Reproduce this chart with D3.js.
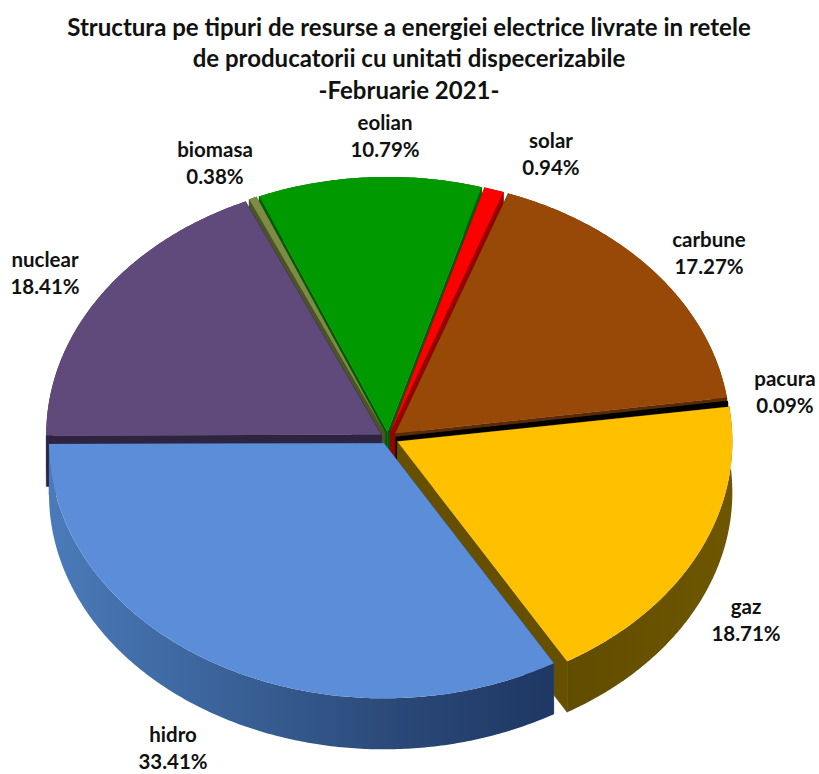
<!DOCTYPE html>
<html><head><meta charset="utf-8">
<style>html,body{margin:0;padding:0;background:#fff}svg{display:block}text{font-family:Lato,"Open Sans",sans-serif;font-weight:700;fill:#111}</style>
<script src="https://cdn.jsdelivr.net/npm/d3@7"></script>
</head><body><div id="c"></div>
<script>
const categories=["carbune","pacura","gaz","hidro","nuclear","biomasa","eolian","solar"];
const values=[17.27,0.09,18.71,33.41,18.41,0.38,10.79,0.94];
const topColors=["#984807","#000000","#ffc000","#5b8dd8","#604a7b","#7d8c44","#009900","#ff0000"];
const wallColors=["#5b2b04","#000000","#665000","#2f5288","#2e2340","#4b5428","#005c00","#990000"];
const titleLines=["Structura pe tipuri de resurse a energiei electrice livrate in retele","de producatorii cu unitati dispecerizabile","-Februarie 2021-"];
const drawOrder=["eolian","biomasa","solar","nuclear","carbune","pacura","gaz","hidro"];

const W=819,H=774,cx=388,cy=438,rx=335,ry=255,depth=51,explode=0.024,explodeGaz=0.031,explodeCarbune=0.028;
const svg=d3.select("#c").append("svg").attr("width",W).attr("height",H);
const X=d3.scaleLinear([-1,1],[cx-rx,cx+rx]),Y=d3.scaleLinear([-1,1],[cy-ry,cy+ry]);
const startA=19.7*Math.PI/180;
const arcs=d3.pie().sort(null).startAngle(startA).endAngle(startA+2*Math.PI)(values);
const line=d3.line();
const defs=svg.append("defs");
const g1=defs.append("linearGradient").attr("id","hw").attr("gradientUnits","userSpaceOnUse").attr("x1",X(-1)).attr("x2",X(0.48)).attr("y1",0).attr("y2",0);
[[0,"#4a7ab8"],[0.35,"#3a6299"],[0.7,"#2a4877"],[1,"#1f3864"]].forEach(s=>g1.append("stop").attr("offset",s[0]).attr("stop-color",s[1]));
const g2=defs.append("linearGradient").attr("id","gw").attr("gradientUnits","userSpaceOnUse").attr("x1",X(0.5)).attr("x2",X(1)).attr("y1",0).attr("y2",0);
[[0,"#604c00"],[1,"#6e5600"]].forEach(s=>g2.append("stop").attr("offset",s[0]).attr("stop-color",s[1]));

drawOrder.forEach(name=>{
  const i=categories.indexOf(name),a=arcs[i],mid=(a.startAngle+a.endAngle)/2;
  const e0=name==="gaz"?explodeGaz:name==="carbune"?explodeCarbune:explode;
  const ox=e0*Math.sin(mid),oy=-e0*Math.cos(mid);
  const P=(t,r)=>[X(ox+r*Math.sin(t)),Y(oy-r*Math.cos(t))];
  const n=Math.max(2,Math.ceil((a.endAngle-a.startAngle)/0.01));
  const rim=d3.range(n+1).map(k=>P(a.startAngle+(a.endAngle-a.startAngle)*k/n,1));
  const apex=P(0,0);
  const down=p=>[p[0],p[1]+depth];
  const wall=name==="hidro"?"url(#hw)":name==="gaz"?"url(#gw)":wallColors[i];
  const g=svg.append("g");
  const wallFill=wallColors[i];
  [[apex,rim[0]],[apex,rim[n]]].forEach(e=>{
    g.append("path").attr("d",line([e[0],e[1],down(e[1]),down(e[0])])+"Z").attr("fill",wallFill).attr("stroke",wallFill).attr("stroke-width",0.5);
  });
  g.append("path").attr("d",line(rim.concat(rim.slice().reverse().map(down)))+"Z").attr("fill",wall);
  g.append("path").attr("d",line([apex].concat(rim))+"Z").attr("fill",topColors[i]);
});

titleLines.forEach((t,i)=>svg.append("text").attr("x",409).attr("y",[36,67,99][i]).attr("text-anchor","middle").attr("font-size",24).text(t));

const labelSpots={carbune:[709,247],pacura:[785,386],gaz:[746,614],hidro:[173,742],nuclear:[45,267],biomasa:[215,157],eolian:[385,130],solar:[551,148]};
categories.forEach((c,i)=>{
  const s=labelSpots[c];
  const t=svg.append("text").attr("text-anchor","middle").attr("font-size",20.5);
  t.append("tspan").attr("x",s[0]).attr("y",s[1]).text(c);
  t.append("tspan").attr("x",s[0]).attr("y",s[1]+27).text(values[i].toFixed(2)+"%");
});
</script></body></html>
